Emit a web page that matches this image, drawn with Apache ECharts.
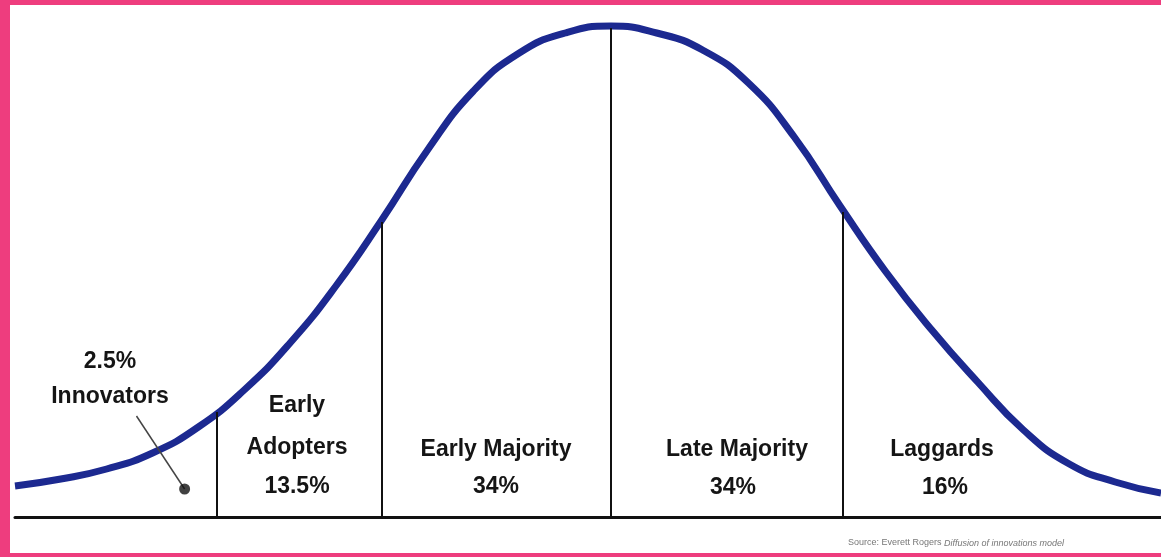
<!DOCTYPE html>
<html>
<head>
<meta charset="utf-8">
<script src="https://cdn.jsdelivr.net/npm/echarts@6/dist/echarts.min.js"></script>
<style>
html, body { margin: 0; padding: 0; background: #fff; }
#main { width: 1161px; height: 557px; }
</style>
</head>
<body>
<div id="main"></div>
<script>
// adoption curve, x in standard deviations from the mean, y in % of plot height
const curve_x = [-2.6, -2.4, -2.2, -2.0, -1.8, -1.6, -1.4, -1.2, -1.0, -0.8, -0.6, -0.4, -0.2, 0,
                 0.2, 0.4, 0.6, 0.8, 1.0, 1.2, 1.4, 1.6, 1.8, 2.0, 2.2, 2.4];
const curve_y = [6.2, 7.6, 9.6, 12.8, 18.0, 25.4, 34.8, 46.2, 59.4, 73.4, 85.2, 92.8, 96.8, 98.2,
                 96.8, 93.4, 86.8, 76.0, 62.2, 49.0, 37.4, 27.0, 17.4, 10.6, 7.0, 4.8];
// segment boundaries and where they meet the curve
const divider_x = [-1.72, -1.0, 0, 1.01];
const divider_top = [21.0, 59.0, 97.8, 61.0];
// "Innovators" pointer
const pointer_x = [-2.07, -1.86];
const pointer_y = [20.2, 5.6];

const chart = echarts.init(document.getElementById('main'), null, {renderer: 'canvas'});

const curve_data = curve_x.map(function (x, i) { return [x, curve_y[i]]; });
const divider_lines = divider_x.map(function (x, i) {
    return [{coord: [x, 0]}, {coord: [x, divider_top[i]]}];
});

const label_font = {fontFamily: 'Liberation Sans', fontWeight: 'bold', fontSize: 23, fill: '#151515', textAlign: 'center', textVerticalAlign: 'middle'};
function label(x, y, text) {
    return {type: 'text', x: x, y: y, z: 10, style: Object.assign({text: text}, label_font)};
}

const option = {
    backgroundColor: '#ffffff',
    animation: false,
    grid: {left: 15, right: 0, top: 17, bottom: 40},
    xAxis: {
        type: 'value',
        min: -2.6,
        max: 2.4,
        axisLine: {show: true, lineStyle: {color: '#111', width: 3}},
        axisTick: {show: false},
        axisLabel: {show: false},
        splitLine: {show: false}
    },
    yAxis: {
        type: 'value',
        min: 0,
        max: 100,
        show: false
    },
    series: [
        {
            type: 'line',
            name: 'dividers',
            data: [],
            z: 1,
            silent: true,
            markLine: {
                symbol: 'none',
                silent: true,
                label: {show: false},
                lineStyle: {color: '#111', width: 2, type: 'solid'},
                data: divider_lines
            }
        },
        {
            type: 'line',
            name: 'adoption',
            data: curve_data,
            smooth: true,
            showSymbol: false,
            z: 3,
            lineStyle: {color: '#1c2990', width: 7}
        },
        {
            type: 'line',
            name: 'pointer',
            data: [[pointer_x[0], pointer_y[0]], [pointer_x[1], pointer_y[1]]],
            showSymbol: false,
            z: 4,
            lineStyle: {color: '#444', width: 1.5}
        },
        {
            type: 'scatter',
            name: 'dot',
            data: [[pointer_x[1], pointer_y[1]]],
            symbolSize: 11,
            z: 5,
            itemStyle: {color: '#111'}
        }
    ],
    graphic: [
        {type: 'rect', shape: {x: 0, y: 0, width: 10, height: 557}, style: {fill: '#ee3d7e'}, z: 20},
        {type: 'rect', shape: {x: 0, y: 0, width: 1161, height: 5}, style: {fill: '#ee3d7e'}, z: 20},
        {type: 'rect', shape: {x: 0, y: 553, width: 1161, height: 4}, style: {fill: '#ee3d7e'}, z: 20},
        label(110, 362, '2.5%'),
        label(110, 397, 'Innovators'),
        label(297, 406, 'Early'),
        label(297, 448, 'Adopters'),
        label(297, 487, '13.5%'),
        label(496, 450, 'Early Majority'),
        label(496, 487, '34%'),
        label(737, 450, 'Late Majority'),
        label(733, 488, '34%'),
        label(942, 450, 'Laggards'),
        label(945, 488, '16%'),
        {
            type: 'text', x: 848, y: 543, z: 10,
            style: {
                text: '{a|Source: Everett Rogers }{b|Diffusion of innovations model}',
                textVerticalAlign: 'middle',
                rich: {
                    a: {fontFamily: 'Liberation Sans', fontSize: 9, fill: '#777'},
                    b: {fontFamily: 'Liberation Sans', fontSize: 9, fontStyle: 'italic', fill: '#777'}
                }
            }
        }
    ]
};
chart.setOption(option);
</script>
</body>
</html>
